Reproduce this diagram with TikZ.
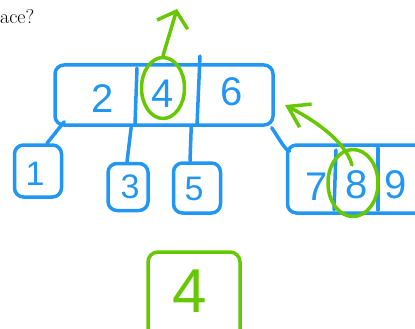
\documentclass[tikz,border=0pt]{standalone}
\usepackage{fontspec}
\newfontfamily\handfont{Liberation Sans}
\usetikzlibrary{arrows.meta,shapes.geometric,calc}
\definecolor{penblue}{RGB}{33,150,243}
\definecolor{pengreen}{RGB}{102,200,0}
\begin{document}
\begin{tikzpicture}[x=1pt,y=-1pt,
  pen/.style={draw=penblue,line width=3.5pt,line cap=round,line join=round},
  gpen/.style={draw=pengreen,line width=3.5pt,line cap=round,line join=round},
  box/.style={pen,rectangle,rounded corners=9pt,inner sep=0pt},
  gbox/.style={gpen,rectangle,rounded corners=10pt,inner sep=0pt},
  digit/.style={text=penblue,font=\handfont\fontsize{40}{40}\selectfont,inner sep=0pt},
  smalldigit/.style={text=penblue,font=\handfont\fontsize{34}{34}\selectfont,inner sep=0pt},
  gdigit/.style={text=pengreen,font=\handfont\fontsize{62}{62}\selectfont,inner sep=0pt},
  ring/.style={gpen,ellipse,inner sep=0pt}]
\useasboundingbox (0,0) rectangle (415,329);

% question text (clipped)
\node[anchor=base west,inner sep=0pt,font=\fontsize{20}{20}\selectfont] (q) at (0,24) {ace?};

% top node
\node[box,minimum width=218pt,minimum height=60pt] (top) at (164,95) {};
\draw[pen] (137,68) -- (135,124);
\draw[pen] (200,56) -- (197,125);
\node[digit] (n2) at (103,99) {2};
\node[digit] (n4) at (163,94) {4};
\node[digit] (n6) at (232,92) {6};

% leaves
\node[box,minimum width=47pt,minimum height=52pt] (l1) at (38,171) {};
\node[smalldigit] (t1) at (35,174) {1};
\node[box,minimum width=40pt,minimum height=47pt] (l3) at (128,187) {};
\node[smalldigit] (t3) at (130,187) {3};
\node[box,minimum width=47pt,minimum height=50pt] (l5) at (197,188) {};
\node[smalldigit] (t5) at (194,189) {5};

\node[box,minimum width=143pt,minimum height=68pt] (r) at (359,179) {};
\draw[pen] (336,150) -- (334,210);
\draw[pen] (378,148) -- (378,210);
\node[digit] (n7) at (317,187) {7};
\node[digit] (n8) at (357,185) {8};
\node[digit] (n9) at (396,185) {9};

% connectors
\draw[pen] ($(top.south west)+(11,-5)$) -- ($(l1.north)+(9,0)$);
\draw[pen] ($(top.south west)+(78,0)$) -- ($(l3.north)+(-1,0)$);
\draw[pen] ($(top.south west)+(138,0)$) -- ($(l5.north)+(-7,0)$);
\draw[pen] ($(top.south east)+(-3,1)$) .. controls (280,140) and (285,150) .. ($(r.north west)+(4,8)$);

% green marks
\node[ring,minimum width=43pt,minimum height=61pt] (e4) at (163,88) {};
\coordinate (up) at (177,9);
\draw[gpen,arrows={-Straight Barb[length=14pt,width=32pt]}] (e4.north) -- (up);

\node[ring,minimum width=50pt,minimum height=67pt] (e8) at (353,183) {};
\coordinate (back) at (285,105);
\draw[gpen,arrows={-Straight Barb[length=20pt,width=26pt]}] ($(e8.center)+(-1,-18)$) .. controls (345,140) and (312,119) .. (back);

\node[gbox,minimum width=92pt,minimum height=92pt] (b4) at (194,298) {};
\node[gdigit] (g4) at (190,291) {4};
\end{tikzpicture}
\end{document}
